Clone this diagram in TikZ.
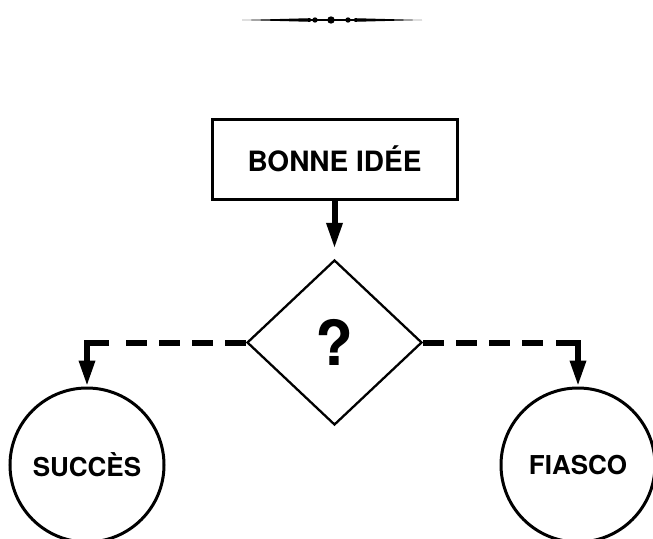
\documentclass[tikz,border=0pt]{standalone}
\usepackage{fontspec}
\setmainfont{TeX Gyre Heros}
\usetikzlibrary{shapes.geometric,arrows.meta}
\begin{document}
\begin{tikzpicture}[x=1pt,y=-1pt,
  lbl/.style={font=\bfseries\fontsize{26}{30}\selectfont},
  idea/.style={draw,line width=3pt,minimum width=245pt,minimum height=80pt,inner sep=0pt,font=\bfseries\fontsize{28}{32}\selectfont},
  question/.style={draw,diamond,line width=2.3pt,minimum width=175pt,minimum height=165pt,inner sep=0pt,font=\bfseries\fontsize{62}{70}\selectfont},
  outcome/.style={draw,circle,line width=3pt,minimum size=154pt,inner sep=0pt,lbl},
  flow/.style={line width=6pt,-{Triangle[length=26pt,width=15pt]}},
  branch/.style={line width=6pt,dash pattern=on 21pt off 12pt},
  ornament/.style={fill=black}
]
\fill[white] (0,0) rectangle (653,538);
\useasboundingbox (0,0) rectangle (653,538);

% ornament
\fill[ornament] (242,20) -- (310,18.2) -- (312,20) -- (310,21.8) -- cycle;
\fill[ornament] (422,20) -- (355,18.2) -- (353,20) -- (355,21.8) -- cycle;
\fill[ornament] (310,19.2) rectangle (355,20.8);
\fill[ornament] (315,20) circle (2.7);
\fill[ornament] (331,20) circle (3.7);
\fill[ornament] (348,20) circle (2.7);

% nodes
\node[idea] (idea) at (334.5,159) {BONNE IDÉE};
\node[question] (q) at (334.5,342.5) {?};
\node[outcome] (s) at (87,465) {SUCCÈS};
\node[outcome] (f) at (578,465) {FIASCO};

% connectors
\draw[flow, shorten >=10pt] (idea.south) -- (q.north);

\coordinate (lc) at (s.north |- q.west);
\coordinate (rc) at (f.north |- q.east);
\draw[branch] (q.west) -- ([xshift=33pt]lc);
\draw[flow] ([xshift=22pt]lc) -- (lc) -- (s.north);
\draw[branch] (q.east) -- ([xshift=-33pt]rc);
\draw[flow] ([xshift=-22pt]rc) -- (rc) -- (f.north);
\end{tikzpicture}
\end{document}
